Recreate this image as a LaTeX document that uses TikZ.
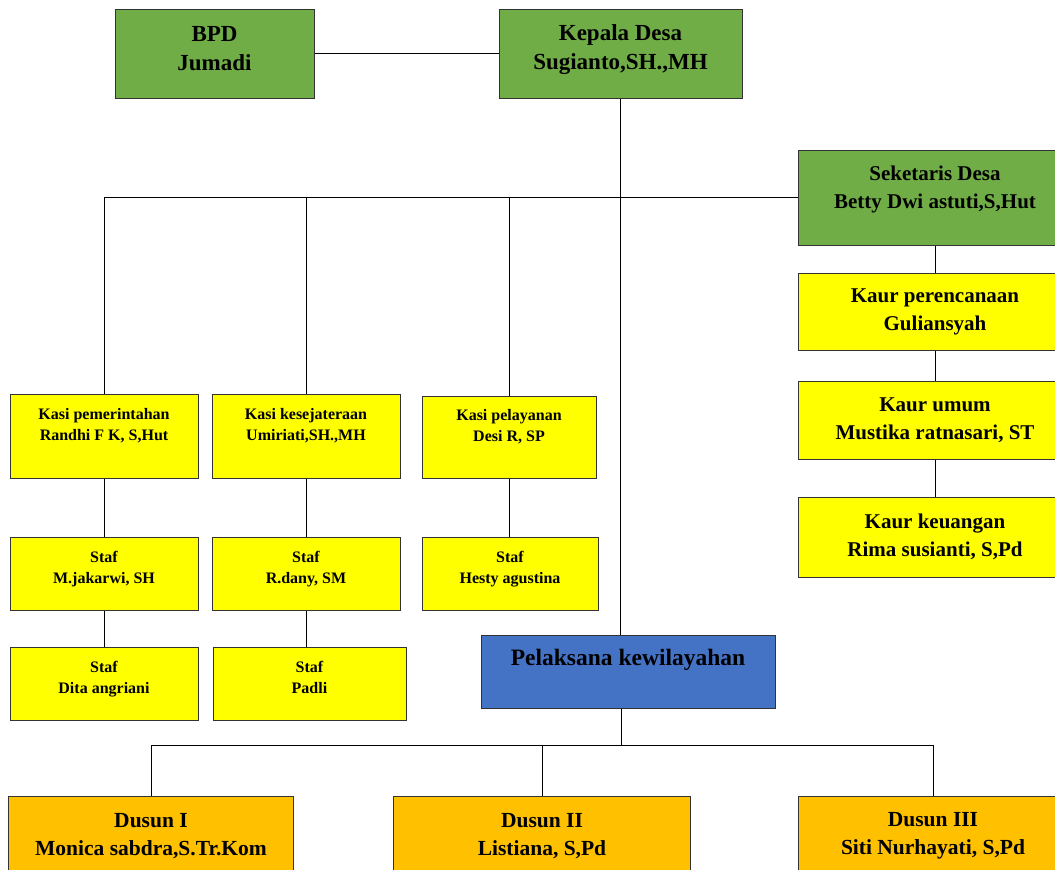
\documentclass[tikz,border=0pt]{standalone}
\usepackage{fontspec}
\setmainfont{Liberation Serif}
\usepackage{xcolor}
\usetikzlibrary{positioning}
\definecolor{boxgreen}{HTML}{70AD47}
\definecolor{boxyellow}{HTML}{FFFF00}
\definecolor{boxblue}{HTML}{4472C4}
\definecolor{boxorange}{HTML}{FFC000}

\begin{document}
\begin{tikzpicture}[x=1pt, y=-1pt,
		unit/.style={draw=black!80, line width=1pt, inner sep=0pt, align=center},
		textup/.style={text depth=#1},
		headunit/.style={unit, fill=boxgreen, font=\bfseries\fontsize{23}{29}\selectfont},
		sekunit/.style={unit, fill=boxgreen, font=\bfseries\fontsize{21}{28}\selectfont},
		kaurunit/.style={unit, fill=boxyellow, font=\bfseries\fontsize{21}{28}\selectfont},
		kasiunit/.style={unit, fill=boxyellow, font=\bfseries\fontsize{16}{21}\selectfont},
		wilunit/.style={unit, fill=boxblue, font=\bfseries\fontsize{23.5}{29}\selectfont},
		dusununit/.style={unit, fill=boxorange, font=\bfseries\fontsize{21.5}{28}\selectfont},
		link/.style={draw=black, line width=0.8pt}]
		\useasboundingbox (0,0) rectangle (1055,870);
		
		\node[headunit, minimum width=199, minimum height=89, textup=11] (bpd) at (214.5,53.5) {BPD\\Jumadi};
		\node[headunit, minimum width=243, minimum height=89, textup=12] (kepala) at (620.5,53.5) {Kepala Desa\\Sugianto,SH.,MH};
		\node[sekunit, minimum width=274, minimum height=95, textup=21] (seket) at (935,197.5) {Seketaris Desa\\Betty Dwi astuti,S,Hut};
		\node[kaurunit, minimum width=274, minimum height=77] (kaur1) at (935,311.5) {Kaur perencanaan\\Guliansyah};
		\node[kaurunit, minimum width=274, minimum height=78] (kaur2) at (935,420) {Kaur umum\\Mustika ratnasari, ST};
		\node[kaurunit, minimum width=274, minimum height=80] (kaur3) at (935,537) {Kaur keuangan\\Rima susianti, S,Pd};
		
		\node[kasiunit, minimum width=188, minimum height=84, textup=23] (kasi1) at (104,436) {Kasi pemerintahan\\Randhi F K, S,Hut};
		\node[kasiunit, minimum width=188, minimum height=84, textup=23] (kasi2) at (306,436) {Kasi kesejateraan\\Umiriati,SH.,MH};
		\node[kasiunit, minimum width=174, minimum height=82, textup=23] (kasi3) at (509,437) {Kasi pelayanan\\Desi R, SP};
		\node[kasiunit, minimum width=188, minimum height=73, textup=13] (staf1) at (104,573.5) {Staf\\M.jakarwi, SH};
		\node[kasiunit, minimum width=188, minimum height=73, textup=13] (staf2) at (306,573.5) {Staf\\R.dany, SM};
		\node[kasiunit, minimum width=176, minimum height=73, textup=13] (staf3) at (510,573.5) {Staf\\Hesty agustina};
		\node[kasiunit, minimum width=188, minimum height=73, textup=13] (staf4) at (104,683.5) {Staf\\Dita angriani};
		\node[kasiunit, minimum width=193, minimum height=73, textup=13] (staf5) at (309.5,683.5) {Staf\\Padli};
		
		\node[wilunit, minimum width=294, minimum height=73, textup=28] (wil) at (628,671.5) {Pelaksana kewilayahan};
		\node[dusununit, minimum width=285, minimum height=80] (dusun1) at (151,836) {Dusun I\\Monica sabdra,S.Tr.Kom};
		\node[dusununit, minimum width=297, minimum height=80] (dusun2) at (542,836) {Dusun II\\Listiana, S,Pd};
		\node[dusununit, minimum width=270, minimum height=80] (dusun3) at (933,836) {Dusun III\\Siti Nurhayati, S,Pd};
		\coordinate (dbus) at (621,745);
		
		\draw[link] (bpd) -- (kepala);
		\draw[link] (kepala.south) -- (kepala.south |- wil.north);
		\draw[link] (kasi1.north) |- (seket.west);
		\draw[link] (kasi2.north) -- (kasi2.north |- seket.west);
		\draw[link] (kasi3.north) -- (kasi3.north |- seket.west);
		\draw[link] (seket) -- (kaur1) -- (kaur2) -- (kaur3);
		\draw[link] (kasi1) -- (staf1) -- (staf4);
		\draw[link] (kasi2) -- (staf2);
		\draw[link] (staf2.south) -- (staf2.south |- staf5.north);
		\draw[link] (kasi3.south) -- (kasi3.south |- staf3.north);
		\draw[link] (dbus |- wil.south) -- (dbus);
		\draw[link] (dusun1.north) |- (dusun3.north |- dbus) -- (dusun3.north);
		\draw[link] (dusun2.north) -- (dusun2.north |- dbus);
		\end{tikzpicture}
\end{document}
